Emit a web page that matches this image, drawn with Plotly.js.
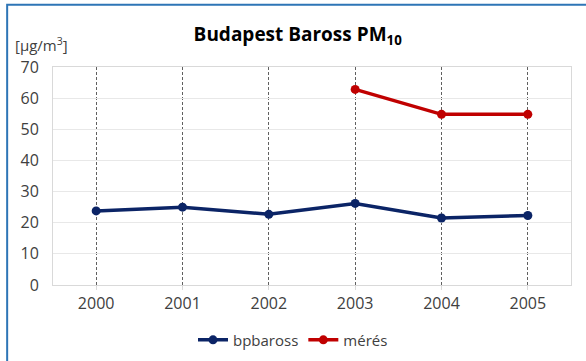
<!DOCTYPE html>
<html><head><meta charset="utf-8">
<script src="https://cdn.plot.ly/plotly-3.0.1.min.js"></script>
<style>html,body{margin:0;padding:0;background:#fff}#chart{width:586px;height:361px}</style>
</head><body><div id="chart"></div>
<script>
const years = ["2000","2001","2002","2003","2004","2005"];
const bpbaross = [23.8, 25.0, 22.7, 26.2, 21.5, 22.3];
const meresYears = ["2003","2004","2005"];
const meres = [62.8, 54.8, 54.8];

const FONT = "'Open Sans', sans-serif";
const traces = [
  {x: years, y: bpbaross, name: "bpbaross", type: "scatter", mode: "lines+markers",
   line: {color: "#0b2466", width: 3.5}, marker: {color: "#0b2466", size: 9}},
  {x: meresYears, y: meres, name: "mérés", type: "scatter", mode: "lines+markers",
   line: {color: "#c00000", width: 3.5}, marker: {color: "#c00000", size: 9}}
];
const layout = {
  width: 586, height: 361,
  margin: {l: 53, r: 15, t: 67, b: 76, autoexpand: false},
  paper_bgcolor: "#fff", plot_bgcolor: "#fff",
  font: {family: FONT, color: "#404040", size: 15},
  title: {text: "<b>Budapest Baross PM<sub>10</sub></b>", x: 0.508, xanchor: "center", y: 0.905, yanchor: "middle",
          font: {family: FONT, size: 19, color: "#000"}},
  xaxis: {type: "category", categoryorder: "array", categoryarray: years, range: [-0.5, 5.5],
          showgrid: true, gridcolor: "#606060", griddash: "3px,2px", gridwidth: 1,
          showline: true, linecolor: "#d9d9d9", mirror: true, linewidth: 1,
          ticks: "outside", ticklen: 4, tickcolor: "#d9d9d9",
          tickfont: {size: 16, color: "#404040"}, zeroline: false, fixedrange: true},
  yaxis: {range: [0, 70], dtick: 10, showgrid: true, gridcolor: "#e8e8e8",
          showline: true, linecolor: "#d9d9d9", mirror: true, zeroline: false,
          ticks: "", ticklabelstandoff: 10, tickfont: {size: 16, color: "#404040"}, fixedrange: true},
  legend: {orientation: "h", x: 0.5, xanchor: "center", xref: "container", yref: "container", y: 0.058, yanchor: "middle",
           font: {size: 15, color: "#404040"}, itemwidth: 30, tracegroupgap: 0},
  showlegend: true,
  annotations: [{text: "[µg/m<sup>3</sup>]", xref: "paper", yref: "paper", x: -0.077, y: 1.105,
                 xanchor: "left", yanchor: "middle", showarrow: false, font: {size: 15, color: "#404040"}}],
  shapes: [{type: "rect", xref: "paper", yref: "paper", x0: -0.0885, x1: 1.2, y0: -0.5, y1: 1.285,
            line: {color: "#2e75b6", width: 2}, layer: "below"}]
};
Plotly.newPlot("chart", traces, layout, {displayModeBar: false, staticPlot: true});
</script></body></html>
